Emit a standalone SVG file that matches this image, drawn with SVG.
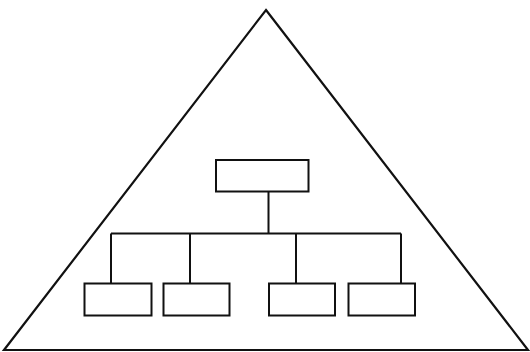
<svg xmlns="http://www.w3.org/2000/svg" width="530" height="352" viewBox="0 0 530 352">
<style>
.tri{fill:none;stroke:#111;stroke-width:2.2;stroke-linejoin:miter}
.box{fill:#fff;stroke:#111;stroke-width:2}
.con{fill:none;stroke:#111;stroke-width:2}
</style>
<rect width="530" height="352" fill="#fff"/>
<polygon class="tri" points="266,10 528,350 4,350"/>
<g id="connectors">
<path class="con" d="M268.5,191.5 V233.5 M111,233.5 H401 M111,233.5 V283.5 M190,233.5 V283.5 M296,233.5 V283.5 M401,233.5 V283.5"/>
</g>
<g id="top"><rect class="box" x="216" y="160" width="92.5" height="31.5"/></g>
<g id="b1"><rect class="box" x="84.5" y="283.5" width="67" height="32"/></g>
<g id="b2"><rect class="box" x="163.5" y="283.5" width="66" height="32"/></g>
<g id="b3"><rect class="box" x="269" y="283.5" width="66" height="32"/></g>
<g id="b4"><rect class="box" x="348.5" y="283.5" width="66.5" height="32"/></g>
</svg>
